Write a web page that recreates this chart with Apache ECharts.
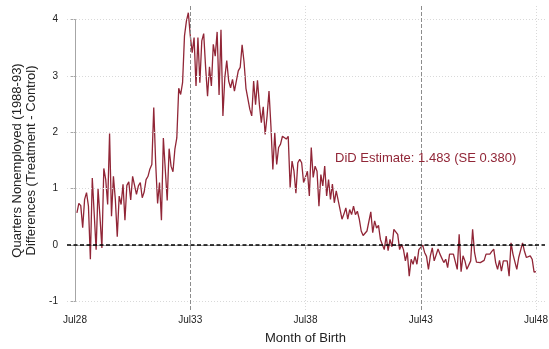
<!DOCTYPE html>
<html>
<head>
<meta charset="utf-8">
<script src="https://cdn.jsdelivr.net/npm/echarts@6/dist/echarts.min.js"></script>
<style>
  html, body { margin: 0; padding: 0; background: #ffffff; }
  #chart { width: 549px; height: 349px; }
</style>
</head>
<body>
<div id="chart"></div>
<script>
// Month-of-birth axis: months counted from Jul 1928, tick every 5 years
const tickLabels = ['Jul28', 'Jul33', 'Jul38', 'Jul43', 'Jul48'];
const monthsPerTick = 60;
const firstMonth = 1; // series begins Aug 1928

// Treatment - control difference in quarters nonemployed, by month of birth
const diffValues = [
  0.57, 0.74, 0.70, 0.31, 0.81, 0.93, 0.69, -0.25, 1.19, 0.55, -0.08, 1.00,
  0.50, -0.05, 1.36, 1.16, 0.72, 1.98, 0.51, 1.22, 0.81, 0.15, 0.87, 0.72,
  1.08, 0.44, 1.06, 1.12, 0.80, 1.22, 1.20, 0.90, 1.05, 1.11, 0.84, 0.94,
  1.16, 1.22, 1.35, 1.43, 2.44, 1.45, 0.74, 1.11, 0.44, 1.90, 1.34, 0.79,
  1.71, 1.40, 1.30, 1.70, 1.90, 2.78, 2.67, 2.88, 3.71, 3.97, 4.12, 3.72,
  3.41, 3.68, 2.82, 3.68, 2.88, 3.62, 3.75, 3.15, 2.64, 3.16, 2.82, 3.56,
  3.35, 3.78, 2.66, 3.82, 2.29, 2.97, 3.27, 2.91, 2.79, 2.94, 2.73, 2.71,
  3.09, 3.15, 3.55, 3.25, 2.78, 2.75, 2.41, 2.29, 2.91, 2.49, 2.92, 2.49,
  2.17, 2.45, 1.96, 2.29, 2.73, 2.11, 1.34, 1.99, 1.43, 1.73, 1.79, 1.93,
  1.91, 1.88, 1.93, 1.02, 1.49, 1.31, 0.92, 1.46, 1.52, 1.46, 1.11, 1.08,
  1.31, 0.87, 1.73, 1.20, 1.40, 1.31, 0.69, 1.25, 1.05, 1.40, 0.87, 1.16,
  0.81, 1.08, 0.75, 0.96, 0.99, 0.63, 0.46, 0.55, 0.66, 0.46, 0.63, 0.54,
  0.69, 0.54, 0.60, 0.46, 0.25, 0.17, 0.19, 0.25, 0.28, 0.59, 0.22, 0.43,
  0.30, 0.35, 0.10, 0.13, -0.08, 0.16, -0.10, 0.10, -0.03, 0.28, 0.31, 0.19,
  -0.08, 0.01, -0.08, -0.28, -0.13, -0.55, -0.25, -0.34, -0.20, -0.34, -0.08, -0.05,
  0.00, -0.13, -0.20, -0.43, -0.19, -0.05, -0.28, -0.28, -0.07, -0.16, -0.13, -0.31,
  -0.25, -0.40, -0.16, -0.13, -0.16, -0.13, -0.43, 0.19, -0.47, -0.19, -0.28, -0.43,
  -0.43, -0.28, 0.28, -0.13, -0.30, -0.27, -0.31, -0.30, -0.27, -0.16, -0.13, -0.16,
  -0.11, -0.07, -0.31, -0.43, -0.27, -0.46, -0.28, -0.31, -0.28, -0.55, 0.04, -0.16,
  -0.19, -0.43, -0.22, -0.19, 0.04, -0.11, -0.22, -0.22, -0.19, -0.25, -0.48, -0.47
];

const yTicks = [-1, 0, 1, 2, 3, 4];
const referenceMonths = [60, 180];   // Jul33 and Jul43 reference lines
const gridMonths = [120, 240];       // light vertical grid
const estimateText = 'DiD Estimate: 1.483 (SE 0.380)';

const lineColor = '#912637';
const axisColor = '#a6a6a6';
const textColor = '#222222';

// Data area and the wider plot region around it (pixels)
const dataBox = { left: 75, right: 536, top: 19.5, bottom: 301.5 };
const plotBox = { left: 67, right: 545, top: 5, bottom: 310 };
const W = 549, H = 349;

const xMin = 0, xMax = monthsPerTick * (tickLabels.length - 1);
const yMin = yTicks[0], yMax = yTicks[yTicks.length - 1];
const xPerPx = (xMax - xMin) / (dataBox.right - dataBox.left);
const yPerPx = (yMax - yMin) / (dataBox.bottom - dataBox.top);
const xMinWide = xMin - (dataBox.left - plotBox.left) * xPerPx;
const xMaxWide = xMax + (plotBox.right - dataBox.right) * xPerPx;
const yMinWide = yMin - (plotBox.bottom - dataBox.bottom) * yPerPx;
const yMaxWide = yMax + (dataBox.top - plotBox.top) * yPerPx;

const seriesData = diffValues.map((v, k) => [firstMonth + k, v]);

const chart = echarts.init(document.getElementById('chart'), null, { renderer: 'canvas' });

const hGridLines = yTicks.filter(v => v !== 0).map(v => ({
  yAxis: v, lineStyle: { color: '#d9d9d9', type: [1, 2], width: 1 }
}));
const vGridLines = gridMonths.map(m => ({
  xAxis: m, lineStyle: { color: '#d9d9d9', type: [1, 2], width: 1 }
}));
const refLines = referenceMonths.map(m => ({
  xAxis: m, lineStyle: { color: '#8c8c8c', type: [4, 2], width: 1 }
}));
const zeroLine = [{ yAxis: 0, lineStyle: { color: '#000000', type: [4, 2.5], width: 1.6 } }];

chart.setOption({
  animation: false,
  backgroundColor: '#ffffff',
  grid: [
    {
      left: dataBox.left, right: W - dataBox.right, top: dataBox.top, bottom: H - dataBox.bottom,
      containLabel: false, outerBoundsMode: 'none'
    },
    {
      left: plotBox.left, right: W - plotBox.right, top: plotBox.top, bottom: H - plotBox.bottom,
      containLabel: false, outerBoundsMode: 'none'
    }
  ],
  xAxis: [
    {
      gridIndex: 0, type: 'value', min: xMin, max: xMax, interval: monthsPerTick,
      offset: plotBox.bottom - dataBox.bottom,
      axisLine: { show: true, lineStyle: { color: axisColor, width: 1 } },
      axisTick: { show: true, length: 4, lineStyle: { color: axisColor } },
      axisLabel: {
        color: textColor, fontSize: 10, margin: 5, fontFamily: 'Liberation Sans, Arial, sans-serif',
        formatter: v => tickLabels[Math.round(v / monthsPerTick)]
      },
      splitLine: { show: false },
      name: 'Month of Birth', nameLocation: 'middle', nameGap: 22,
      nameTextStyle: { color: textColor, fontSize: 13, fontFamily: 'Liberation Sans, Arial, sans-serif' }
    },
    { gridIndex: 1, type: 'value', min: xMinWide, max: xMaxWide, show: false }
  ],
  yAxis: [
    {
      gridIndex: 0, type: 'value', min: yMin, max: yMax, interval: 1,
      offset: dataBox.left - plotBox.left,
      axisLine: { show: true, lineStyle: { color: axisColor, width: 1 } },
      axisTick: { show: true, length: 5, lineStyle: { color: axisColor } },
      axisLabel: { color: textColor, fontSize: 10, margin: 9, fontFamily: 'Liberation Sans, Arial, sans-serif' },
      splitLine: { show: false },
      name: 'Quarters Nonemployed (1988-93)\nDifferences (Treatment - Control)',
      nameLocation: 'middle', nameRotate: 90, nameGap: 29,
      nameTextStyle: { color: textColor, fontSize: 13, lineHeight: 14, fontFamily: 'Liberation Sans, Arial, sans-serif' }
    },
    { gridIndex: 1, type: 'value', min: yMinWide, max: yMaxWide, show: false }
  ],
  series: [
    {
      // reference lines spanning the full plot region
      type: 'line', xAxisIndex: 1, yAxisIndex: 1, data: [], silent: true, z: 1,
      markLine: {
        silent: true, symbol: ['none', 'none'], label: { show: false },
        data: [...hGridLines, ...vGridLines, ...refLines]
      }
    },
    {
      type: 'line', xAxisIndex: 0, yAxisIndex: 0, data: seriesData,
      showSymbol: false, symbol: 'none', z: 3, clip: false,
      lineStyle: { color: lineColor, width: 1.3 }
    },
    {
      type: 'line', xAxisIndex: 1, yAxisIndex: 1, data: [], silent: true, z: 4,
      markLine: {
        silent: true, symbol: ['none', 'none'], label: { show: false },
        data: zeroLine
      }
    }
  ],
  graphic: [
    {
      type: 'text', x: 335, y: 158, z: 10,
      style: {
        text: estimateText, fill: lineColor, fontSize: 13,
        fontFamily: 'Liberation Sans, Arial, sans-serif',
        textVerticalAlign: 'middle', textAlign: 'left'
      }
    }
  ]
});
</script>
</body>
</html>
